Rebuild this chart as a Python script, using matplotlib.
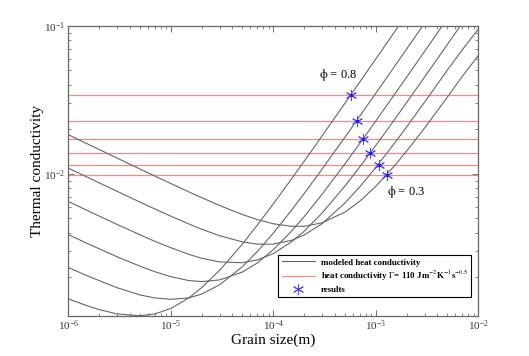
import matplotlib
matplotlib.use("Agg")
import matplotlib.pyplot as plt
from matplotlib.ticker import LogLocator, NullFormatter

plt.rcParams['font.family'] = ['Liberation Serif', 'DejaVu Serif']
plt.rcParams['mathtext.fontset'] = 'stix'

grain_size = [1e-6, 1.5e-6, 2e-6, 3e-6, 5e-6, 7e-6,
              1e-5, 1.5e-5, 2e-5, 3e-5, 5e-5, 7e-5,
              1e-4, 1.5e-4, 2e-4, 3e-4, 5e-4, 7e-4,
              1e-3, 1.5e-3, 2e-3, 3e-3, 5e-3, 7e-3, 1e-2]

# modeled heat conductivity, one list per porosity (0.3 ... 0.8)
k_phi_03 = [0.01841, 0.01608, 0.01462, 0.01278, 0.01079, 0.00966,
            0.00861, 0.00756, 0.00691, 0.00611, 0.00531, 0.00491,
            0.00460, 0.00442, 0.00442, 0.00467, 0.00551, 0.00654,
            0.00823, 0.01119, 0.01423, 0.02043, 0.03301, 0.04566, 0.06300]
k_phi_04 = [0.01095, 0.00957, 0.00870, 0.00762, 0.00645, 0.00579,
            0.00518, 0.00459, 0.00423, 0.00382, 0.00347, 0.00335,
            0.00335, 0.00355, 0.00386, 0.00461, 0.00635, 0.00819,
            0.01103, 0.01586, 0.02073, 0.03056, 0.05031, 0.06900, 0.09500]
k_phi_05 = [0.00651, 0.00570, 0.00519, 0.00455, 0.00388, 0.00350,
            0.00317, 0.00286, 0.00269, 0.00254, 0.00251, 0.00262,
            0.00289, 0.00346, 0.00409, 0.00544, 0.00827, 0.01116,
            0.01555, 0.02292, 0.03032, 0.04515, 0.07488, 0.1046]
k_phi_06 = [0.00389, 0.00341, 0.00312, 0.00275, 0.00238, 0.00218,
            0.00202, 0.00190, 0.00187, 0.00192, 0.00217, 0.00250,
            0.00307, 0.00408, 0.00513, 0.00728, 0.01166, 0.01608,
            0.02274, 0.03386, 0.04501, 0.06732, 0.1120]
k_phi_07 = [0.00233, 0.00206, 0.00190, 0.00170, 0.00152, 0.00145,
            0.00142, 0.00145, 0.00154, 0.00178, 0.00236, 0.00299,
            0.00397, 0.00565, 0.00735, 0.01077, 0.01768, 0.02460,
            0.03500, 0.05236, 0.06972, 0.1045]
k_phi_08 = [0.00143, 0.00129, 0.00121, 0.00113, 0.00110, 0.00113,
            0.00123, 0.00145, 0.00170, 0.00223, 0.00335, 0.00451,
            0.00626, 0.00920, 0.01215, 0.01809, 0.02997, 0.04187,
            0.05974, 0.08952, 0.1193]
modeled = [k_phi_03, k_phi_04, k_phi_05, k_phi_06, k_phi_07, k_phi_08]

# conductivity from thermal inertia 110 Jm-2K-1s-0.5, per porosity
gamma_k = [0.0099, 0.0115, 0.0138, 0.0172, 0.0229, 0.0343]
# resulting grain sizes
result_d = [1.29e-3, 1.07e-3, 8.8e-4, 7.5e-4, 6.6e-4, 5.73e-4]

curve_color = '#666666'
gamma_color = '#f08a8a'
star_color = '#4646ff'

fig = plt.figure(figsize=(5.29, 3.56), dpi=100)
ax = fig.add_axes([0.129, 0.1132, 0.775, 0.814])

for i, k in enumerate(gamma_k):
    ax.axhline(k, color=gamma_color, linewidth=0.9,
               label=r'heat conductivity $\Gamma$= 110 Jm$^{-2}$K$^{-1}$s$^{-0.5}$' if i == 0 else None)

for i, k in enumerate(modeled):
    ax.plot(grain_size[:len(k)], k, color=curve_color, linewidth=0.8,
            label='modeled heat conductivity' if i == 0 else None)

ax.plot(result_d, gamma_k, linestyle='none', marker=(6, 2, 0), markersize=8,
        markeredgewidth=0.7, color=star_color, label='results')
ax.plot(result_d, gamma_k, linestyle='none', marker='o', markersize=1.5,
        color='#1a1aff')

ax.set_xscale('log')
ax.set_yscale('log')
ax.set_xlim(1e-6, 1e-2)
ax.set_ylim(1.1e-3, 1e-1)

for axis in (ax.xaxis, ax.yaxis):
    axis.set_major_locator(LogLocator(base=10, numticks=10))
    axis.set_minor_locator(LogLocator(base=10, subs=range(2, 10), numticks=100))
    axis.set_minor_formatter(NullFormatter())
ax.tick_params(which='both', direction='in', top=True, right=True,
               colors='#555555', labelcolor='#333333', labelsize=8)
ax.tick_params(which='major', length=4, width=0.6)
ax.tick_params(which='minor', length=2, width=0.5)
ax.tick_params(axis='y', pad=2)
ax.tick_params(axis='x', pad=2)
for sp in ax.spines.values():
    sp.set_color('#666666')
    sp.set_linewidth(0.9)

ax.set_xlabel('Grain size(m)', fontsize=11)
ax.set_ylabel('Thermal conductivity', fontsize=11)
ax.xaxis.set_label_coords(0.5, -0.062)
ax.yaxis.set_label_coords(-0.058, 0.5)

ax.text(4.3e-4, 0.0467, r'$\mathrm{\phi}$ = 0.8', fontsize=9, ha='center', va='center')
ax.text(1.96e-3, 0.00752, r'$\mathrm{\phi}$ = 0.3', fontsize=9, ha='center', va='center')

handles, labels = ax.get_legend_handles_labels()
order = [1, 0, 2]
leg = ax.legend([handles[i] for i in order], [labels[i] for i in order],
                loc='lower right', bbox_to_anchor=(0.983, 0.0635),
                prop={'weight': 'bold', 'size': 6.4}, fancybox=False,
                edgecolor='black', framealpha=1, handlelength=3.8,
                labelspacing=0.3, borderpad=0.35, handletextpad=0.6,
                borderaxespad=0)
leg.get_frame().set_linewidth(0.8)

fig.savefig('out.png', dpi=100)
